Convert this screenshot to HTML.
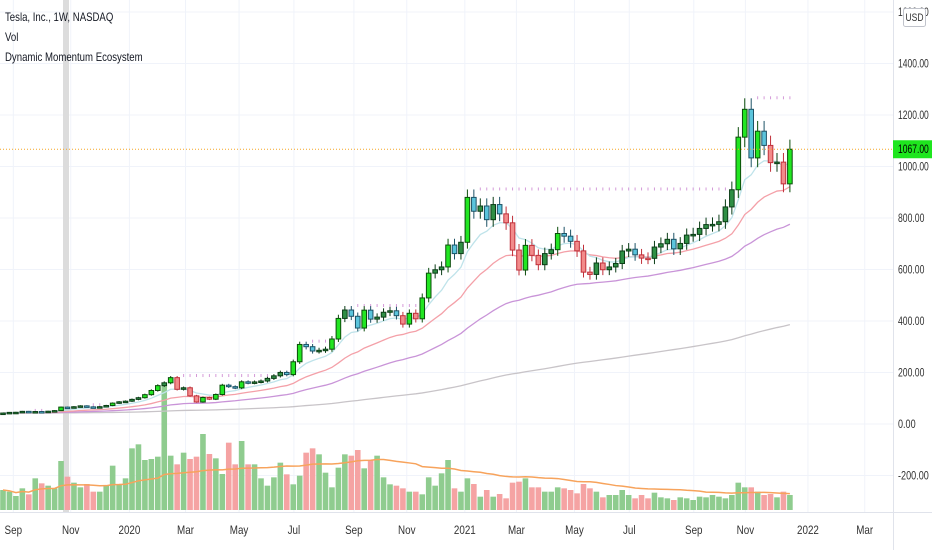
<!DOCTYPE html>
<html><head><meta charset="utf-8"><style>
html,body{margin:0;padding:0;background:#fff;}
#wrap{position:relative;width:932px;height:550px;overflow:hidden;font-family:"Liberation Sans",sans-serif;}
.leg{position:absolute;left:5px;font-size:12px;color:#131722;transform:scaleX(0.8);transform-origin:0 0;white-space:nowrap;}
</style></head><body>
<div id="wrap">
<svg id="svg" width="932" height="550"></svg>
<div class="leg" style="top:10px">Tesla, Inc., 1W, NASDAQ</div>
<div class="leg" style="top:30px">Vol</div>
<div class="leg" style="top:50px">Dynamic Momentum Ecosystem</div>
</div>
<script>
const closes=[42.5,45.1,45.5,49.1,48.0,48.4,46.3,49.6,52.0,65.6,62.7,67.0,70.4,66.6,65.9,67.2,71.9,81.1,86.1,
88.6,95.6,102.1,113.9,130.1,149.0,160.0,180.0,134.7,140.7,109.3,85.5,102.9,96.3,114.6,150.8,145.0,140.3,163.9,159.8,163.4,167.0,177.1,187.1,200.2,191.9,241.7,308.9,300.2,283.4,286.2,290.5,330.1,410.0,442.7,418.3,372.7,442.1,407.3,415.1,434.0,439.7,420.6,388.0,429.9,408.5,489.6,585.8,599.0,609.9,695.0,661.8,705.7,
880.0,826.2,846.6,793.5,852.2,816.1,781.3,675.5,597.9,693.7,654.9,618.7,661.8,677.0,739.8,729.4,709.4,672.4,589.7,580.9,625.2,599.1,609.9,623.3,671.9,678.9,656.9,644.2,643.4,687.2,700.0,717.2,680.3,701.2,733.6,736.3,759.5,774.4,775.2,785.5,843.0,909.7,1114.0,1222.1,1033.4,1137.1,1081.9,1015.0,1017.0,932.6,1067.0];
const volumes=[60,55,42,65,47,95,80,73,65,147,100,82,68,78,55,55,73,133,77,95,185,197,150,153,160,382,163,137,172,153,160,228,168,155,108,202,137,207,137,137,95,73,98,142,107,77,103,172,185,167,112,68,127,167,163,180,125,150,163,98,77,73,65,55,55,47,98,73,
110,150,65,55,95,78,40,60,40,48,35,82,85,95,68,68,55,55,68,65,60,50,78,65,55,38,45,45,60,45,35,45,35,52,38,35,30,38,35,30,40,38,45,40,35,45,82,68,68,55,45,48,38,55,45];
const priceTicks=[1600,1400,1200,1000,800,600,400,200,0,-200];
const timeLabels=["Sep","Nov","2020","Mar","May","Jul","Sep","Nov","2021","Mar","May","Jul","Sep","Nov","2022","Mar"];
const timeLabelWeeks=[1.6,10.5,19.6,28.3,36.6,45.1,54.4,62.6,71.6,79.6,88.6,97.1,107.1,115.1,124.8,133.6];
const lastPrice=1067.0;

const NS="http://www.w3.org/2000/svg",svg=document.getElementById('svg');
const X=i=>3+6.45*i, Y=p=>424-p*0.2575, VB=510, VS=1/3;
const FF='Liberation Sans, sans-serif';
function el(t,a,p){const e=document.createElementNS(NS,t);for(const k in a)e.setAttribute(k,a[k]);(p||svg).appendChild(e);return e;}
const grid=el('g',{});
priceTicks.forEach(t=>{el('line',{x1:0,x2:893,y1:Y(t),y2:Y(t),stroke:'#f0f3fa','stroke-width':1},grid);});
timeLabelWeeks.forEach(w=>{el('line',{x1:X(w),x2:X(w),y1:0,y2:512,stroke:'#f0f3fa','stroke-width':1},grid);});
const band=el('rect',{x:63,y:0,width:6,height:512,fill:'#dcdcdc'});

const vg=el('g',{});
volumes.forEach((v,i)=>{const up=i==0||closes[i]>=closes[i-1];
 const r=el('rect',{x:X(i)-2.8,y:VB-v*VS,width:5.6,height:v*VS,fill:up?'#8fcc8f':'#f5a3a3'},vg);
 });
let vma=[];volumes.forEach((v,i)=>{const s=volumes.slice(Math.max(0,i-39),i+1);vma.push(s.reduce((a,b)=>a+b,0)/s.length);});
const vml=el('polyline',{points:vma.map((v,i)=>X(i)+','+(VB-v*VS)).join(' '),fill:'none',stroke:'#f7a35c','stroke-width':1.5});

function ema(n){let o=[],e=closes[0];closes.forEach(c=>{e=e+(c-e)*2/(n+1);o.push(e);});return o;}
[[220,'#c8c4c8','ema-slow'],[50,'#c994d8','ema-50'],[21,'#f4a0a8','ema-21'],[8,'#bfe3ea','ema-8']].forEach(([n,c,nm])=>{
 const l=el('polyline',{points:ema(n).map((v,i)=>X(i)+','+Y(v)).join(' '),fill:'none',stroke:c,'stroke-width':1.3});
 });
const e8=ema(8);let runMax=0;
const cg=el('g',{});
closes.forEach((c,i)=>{const o=i==0?c*0.98:closes[i-1];const hi=Math.max(o,c)*1.035,lo=Math.min(o,c)*0.965;
 const x=X(i);let fill,str;
 if(c>=o){if(c>o*1.08){fill='#22e622';str='#0b4d0b';}else{fill='#2f8f45';str='#0b3d16';}}
 else{if(c>e8[i]){fill='#5bc4dc';str='#1d5266';}else{fill='#f28b8b';str='#c0303a';}}
 if(runMax>0&&hi<runMax){const t=el('line',{x1:x,x2:x,y1:Y(runMax)-2,y2:Y(runMax)+1,stroke:'#d49ad8','stroke-width':1},cg);
  }
 runMax=Math.max(runMax,hi);
 const g=el('g',{},cg);
 el('line',{x1:x,x2:x,y1:Y(hi),y2:Y(lo),stroke:str,'stroke-width':1},g);
 const yt=Y(Math.max(o,c)),h=Math.max(1.5,Math.abs(Y(o)-Y(c)));
 el('rect',{x:x-2.3,y:yt,width:4.6,height:h,fill:fill,stroke:str,'stroke-width':1},g);});
const lp=el('line',{x1:0,x2:893,y1:Y(lastPrice),y2:Y(lastPrice),stroke:'#f5a623','stroke-width':1,'stroke-dasharray':'1,2'});

el('line',{x1:893.5,x2:893.5,y1:0,y2:550,stroke:'#e0e3eb'});
el('line',{x1:0,x2:932,y1:512.5,y2:512.5,stroke:'#e0e3eb'});
priceTicks.forEach(t=>{const s=t.toFixed(2);const tx=el('text',{x:898,y:Y(t)+4,'font-size':'12',fill:'#333','font-family':FF,textLength:s.length*4.4,lengthAdjust:'spacingAndGlyphs'});
 tx.textContent=s;});
timeLabels.forEach((s,k)=>{const tx=el('text',{x:X(timeLabelWeeks[k]),y:534,'font-size':'12',fill:'#333','text-anchor':'middle','font-family':FF,transform:'translate('+X(timeLabelWeeks[k])+',0) scale(0.82,1) translate('+(-X(timeLabelWeeks[k]))+',0)'});
 tx.textContent=s;});
const pb=el('rect',{x:893,y:Y(lastPrice)-9,width:39,height:18,fill:'#1ee61e'});

const pt=el('text',{x:898,y:Y(lastPrice)+4,'font-size':'12',fill:'#000','font-family':FF,textLength:30.8,lengthAdjust:'spacingAndGlyphs'});
pt.textContent=lastPrice.toFixed(2);
const ub=el('rect',{x:903.5,y:8.5,width:22,height:18,fill:'#fff',stroke:'#c0c3cb',rx:2});

const ut=el('text',{x:905.5,y:21,'font-size':'11',fill:'#333','font-family':FF,textLength:18,lengthAdjust:'spacingAndGlyphs'});
ut.textContent='USD';
</script>
</body></html>
